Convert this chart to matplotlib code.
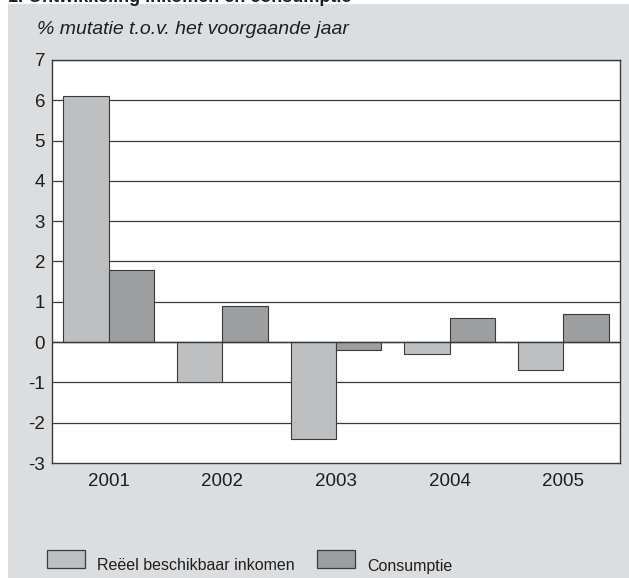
"""Ontwikkeling inkomen en consumptie"""

import numpy as np
import matplotlib.pyplot as plt
from matplotlib.patches import Rectangle

plt.rcParams['font.family'] = ['Liberation Sans', 'DejaVu Sans']

# data
jaren = ['2001', '2002', '2003', '2004', '2005']
inkomen = [6.1, -1.0, -2.4, -0.3, -0.7]
consumptie = [1.8, 0.9, -0.2, 0.6, 0.7]
reeks_namen = ['Reëel beschikbaar inkomen', 'Consumptie']

bg = '#dcdddf'
licht = '#bebfc1'
donker = '#9d9ea0'
lijn = '#3a3a3a'
tekst = '#1e1e1e'

fig = plt.figure(figsize=(6.29, 5.78), dpi=100)
fig.patch.set_facecolor('white')

# grijs paneel (boven en links een witte rand)
fig.patches.append(Rectangle((8 / 629, 0), 1, 1 - 4 / 578, transform=fig.transFigure,
                             facecolor=bg, edgecolor='none', zorder=-10))

# afgesneden titel bovenaan
fig.text(8 / 629, 1 + 3 / 578, '1. Ontwikkeling inkomen en consumptie', fontsize=13,
         fontweight='bold', ha='left', va='center', color=tekst)

ax = fig.add_axes([52 / 629, 1 - 463 / 578, 568 / 629, 403 / 578])
ax.set_facecolor('white')

x = np.arange(len(jaren))
w = 0.4
ax.bar(x - w / 2, inkomen, w, color=licht, edgecolor=lijn, linewidth=0.8, zorder=3)
ax.bar(x + w / 2, consumptie, w, color=donker, edgecolor=lijn, linewidth=0.8, zorder=3)

ax.set_xlim(-0.5, len(jaren) - 0.5)
ax.set_ylim(-3, 7)
ax.set_yticks(range(-3, 8))
ax.set_yticklabels([str(v) for v in range(-3, 8)])
ax.set_xticks(x)
ax.set_xticklabels(jaren)
ax.tick_params(axis='both', length=0, labelsize=13.5, colors=tekst)
ax.tick_params(axis='y', pad=5)
ax.tick_params(axis='x', pad=7)

for v in range(-2, 8):
    ax.axhline(v, color=lijn, linewidth=0.9, zorder=1)
ax.axhline(0, color=lijn, linewidth=1.0, zorder=4)

for s in ax.spines.values():
    s.set_color(lijn)
    s.set_linewidth(1.0)

fig.text(37 / 629, 1 - 30 / 578, '% mutatie t.o.v. het voorgaande jaar', fontsize=14,
         style='italic', ha='left', va='center', color=tekst)

# legenda
for px, kleur, naam in [(47, licht, reeks_namen[0]), (317, donker, reeks_namen[1])]:
    fig.patches.append(Rectangle((px / 629, 1 - 568 / 578), 38 / 629, 18 / 578,
                                 transform=fig.transFigure, facecolor=kleur,
                                 edgecolor=lijn, linewidth=0.9))
    fig.text((px + 50) / 629, 1 - 566 / 578, naam, fontsize=11.5, ha='left',
             va='center', color=tekst)

fig.savefig('out.png', dpi=100, facecolor=fig.get_facecolor())
